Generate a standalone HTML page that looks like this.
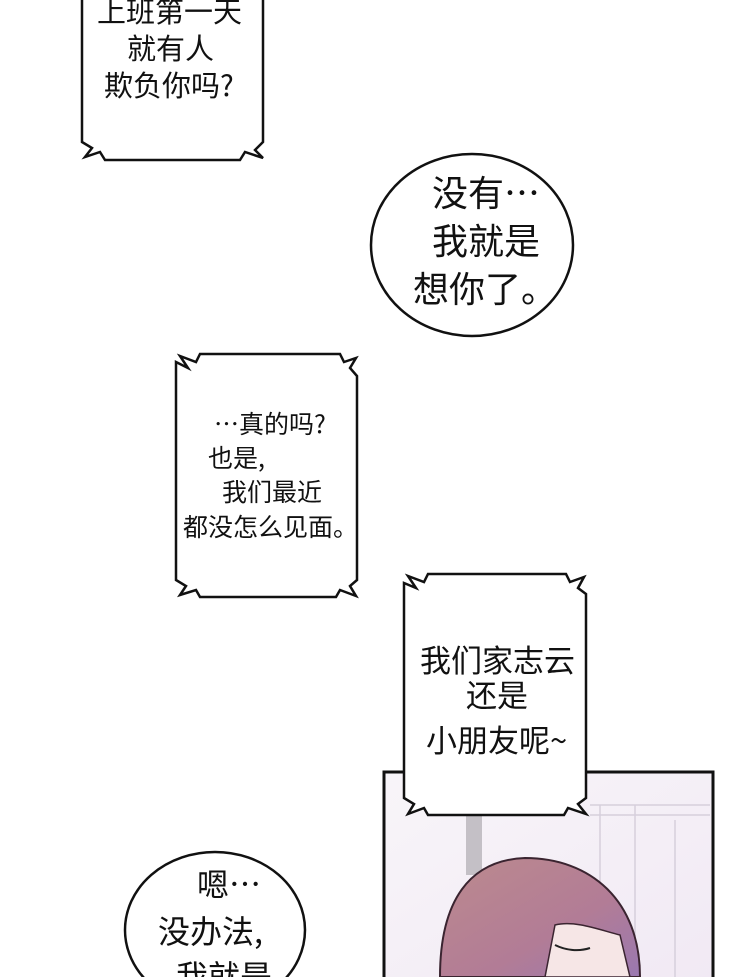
<!DOCTYPE html>
<html><head><meta charset="utf-8"><style>
body{margin:0;background:#fff;}
svg{display:block;}
text{font-family:"Noto Sans CJK SC","Liberation Sans",sans-serif;fill:#111;}
</style></head><body>
<svg width="740" height="977" viewBox="0 0 740 977">
<defs>
<linearGradient id="bg" x1="0" y1="0" x2="1" y2="1">
<stop offset="0" stop-color="#f8f5f9"/><stop offset="1" stop-color="#f1e9f4"/></linearGradient>
<linearGradient id="hair" x1="0" y1="0" x2="1" y2="1">
<stop offset="0" stop-color="#bc8a8e"/><stop offset="0.6" stop-color="#b27c96"/><stop offset="1" stop-color="#9a78b0"/></linearGradient>
</defs>
<rect x="384" y="772" width="329" height="210" fill="url(#bg)" stroke="#111" stroke-width="3"/>
<rect x="466" y="815" width="16" height="60" fill="#c4c0c6"/>
<path d="M590 805 L710 805 M590 815 L710 815 M600 805 L600 977 M635 805 L635 977 M675 820 L675 977" stroke="#d6cfdc" stroke-width="1.5" fill="none"/>
<path d="M440 977 C440 900 470 860 525 858 C590 858 640 900 640 977 Z" fill="url(#hair)" stroke="#3a2430" stroke-width="2"/>
<path d="M555 925 C575 920 600 930 620 935 L630 977 L545 977 Z" fill="#f6e6e6" stroke="#3a2430" stroke-width="1.5"/>
<path d="M555 945 C565 950 578 952 590 948" stroke="#222" stroke-width="2" fill="none"/>
<path d="M82 -2 L263 -2 L263 142 L255 150 L263 158 L245 152 L240 160 L105 160 L100 152 L85 157 L92 148 L82 142 Z" fill="#fff" stroke="#111" stroke-width="2.5"/>
<text font-size="29" x="97" y="22">上班第一天</text>
<text font-size="29" x="127" y="59">就有人</text>
<text font-size="29" x="104" y="96">欺负你吗?</text>
<ellipse cx="472" cy="245" rx="101" ry="91" fill="#fff" stroke="#111" stroke-width="2.5"/>
<text font-size="36" x="432" y="206">没有…</text>
<text font-size="36" x="432" y="254">我就是</text>
<text font-size="36" x="413" y="302">想你了。</text>
<path d="M176 362 L188 368 L180 356 L196 362 L200 354 L340 354 L344 362 L356 358 L350 368 L357 376 L357 580 L350 586 L356 596 L340 590 L336 597 L200 597 L196 590 L180 595 L186 586 L176 580 Z" fill="#fff" stroke="#111" stroke-width="2.5"/>
<text font-size="25" x="214" y="433">…真的吗?</text>
<text font-size="25" x="208" y="467">也是,</text>
<text font-size="25" x="222" y="501">我们最近</text>
<text font-size="25" x="183" y="536">都没怎么见面。</text>
<path d="M404 583 L416 588 L408 576 L424 582 L428 574 L566 574 L570 582 L584 577 L578 588 L586 594 L586 798 L578 804 L586 814 L568 808 L564 815 L428 815 L424 808 L408 814 L414 804 L404 798 Z" fill="#fff" stroke="#111" stroke-width="2.5"/>
<text font-size="31" x="420" y="672">我们家志云</text>
<text font-size="31" x="466" y="707">还是</text>
<text font-size="31" x="426" y="752">小朋友呢~</text>
<ellipse cx="215" cy="930" rx="90" ry="78" fill="#fff" stroke="#111" stroke-width="2.5"/>
<text font-size="32" x="197" y="896">嗯…</text>
<text font-size="32" x="158" y="943">没办法,</text>
<text font-size="32" x="176" y="988">我就是</text>
</svg>
</body></html>
